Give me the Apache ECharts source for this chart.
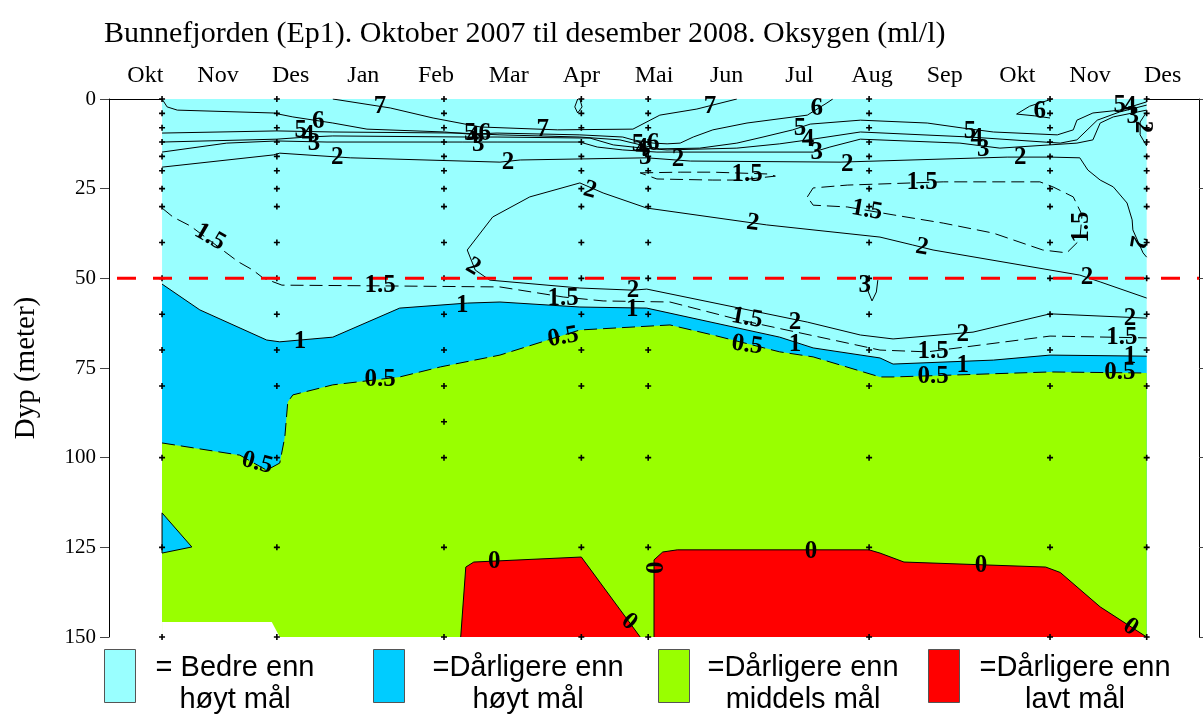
<!DOCTYPE html>
<html>
<head>
<meta charset="utf-8">
<script src="https://cdn.jsdelivr.net/npm/echarts@6/dist/echarts.min.js"></script>
<style>
  html, body { margin: 0; background: #fff; }
  #chart { width: 1204px; height: 715px; }
</style>
</head>
<body>
<div id="chart"></div>
<script>
// x = months since 1 Oct 2007, y = depth in metres
const months = ['Okt', 'Nov', 'Des', 'Jan', 'Feb', 'Mar', 'Apr', 'Mai', 'Jun', 'Jul', 'Aug', 'Sep', 'Okt', 'Nov', 'Des'];
const stations = [0.73, 2.31, 4.61, 6.50, 7.42, 10.46, 12.95, 14.28];
const sampleDepths = [0, 4, 8, 12, 16, 20, 25, 30, 40, 50, 60, 70, 80, 100, 125, 150];
const extraSamples = [[4.61, 90]];
const targetDepth = 50;

// contour lines [month, depth]
const c7 = [[3.08, 0], [3.87, 2.5], [4.46, 5.3], [5.11, 7.8], [6.17, 8.6], [7.21, 8.4], [7.58, 4.5], [8.09, 2.8], [8.64, 0]];
const c7loop = [[6.45, 0], [6.41, 2.2], [6.45, 3.9], [6.51, 2.2], [6.48, 0]];
const c6 = [[0.73, 0], [0.80, 2.2], [0.94, 3.1], [2.26, 3.9], [2.53, 5.0], [3.08, 6.7], [3.55, 8.4], [4.62, 9.2], [4.97, 9.8], [5.34, 9.5],
  [6.48, 10.0], [7.07, 10.6], [7.21, 11.4], [7.49, 12.3], [7.68, 12.5], [7.86, 12.3], [8.04, 10.6], [8.31, 8.6], [8.78, 6.7], [9.61, 4.5], [9.88, 1.1], [9.96, 0]];
const c6b = [[12.98, 0], [12.67, 2.0], [12.49, 4.2], [12.74, 4.7], [12.95, 5.3]];
const c5 = [[0.73, 9.5], [2.31, 8.9], [3.08, 9.2], [4.83, 9.5], [5.38, 10.0], [6.48, 10.6], [7.03, 11.4], [7.38, 13.1], [7.58, 13.9], [8.13, 13.7],
  [8.64, 12.3], [9.0, 10.6], [9.41, 8.6], [9.65, 7.0], [10.34, 5.9], [11.26, 6.7], [11.75, 8.1], [12.17, 9.2], [13.05, 10.0], [13.27, 8.6],
  [13.32, 5.9], [13.54, 3.9], [13.91, 3.1], [14.28, 0.8]];
const c4 = [[0.73, 12.0], [2.31, 11.2], [2.73, 10.6], [3.08, 10.3], [4.93, 10.6], [5.34, 10.6], [6.62, 10.9], [6.94, 12.8], [7.35, 13.7], [7.68, 14.2],
  [8.64, 13.7], [9.23, 12.5], [9.62, 11.4], [10.34, 9.2], [11.85, 10.6], [13.09, 12.3], [13.32, 11.4], [13.60, 5.9], [13.91, 3.6], [14.28, 1.7]];
const c3 = [[0.73, 14.8], [1.62, 12.3], [2.31, 11.7], [3.0, 12.0], [4.87, 12.0], [5.34, 12.0], [6.48, 12.0], [6.72, 13.4], [7.07, 14.2], [7.54, 14.8],
  [9.69, 14.8], [9.92, 13.4], [10.34, 11.2], [11.71, 12.3], [12.26, 13.7], [13.32, 12.3], [13.54, 11.4], [13.64, 6.7], [13.82, 5.0], [14.28, 3.1]];
const c3loop = [[10.42, 50.2], [10.45, 53.8], [10.50, 56.3], [10.56, 53.8], [10.58, 50.5]];
const c2 = [[0.73, 19.0], [2.26, 15.6], [2.35, 15.1], [3.32, 16.4], [5.38, 17.6], [5.66, 17.0], [7.40, 16.4], [8.0, 17.3], [10.06, 17.6], [12.36, 16.2],
  [12.95, 16.2], [13.36, 16.4], [13.47, 19.8], [13.64, 22.6], [13.82, 24.5], [14.01, 29.0], [14.08, 33.7], [14.09, 36.5], [14.23, 42.9], [14.28, 44.1]];
const c2edge = [[14.28, 3.6], [14.19, 6.4], [14.19, 10.0], [14.28, 13.1]];
const c2tongue = [[14.28, 61.1], [12.95, 59.9], [11.89, 65.0], [10.79, 66.9], [10.34, 65.8], [9.61, 62.2], [7.40, 53.0], [7.21, 53.3], [6.48, 52.7],
  [5.24, 50.5], [5.04, 47.7], [4.93, 42.1], [5.28, 32.9], [5.79, 27.3], [6.48, 23.4], [6.80, 26.2], [7.40, 30.4], [9.05, 35.1], [10.61, 38.5],
  [11.06, 40.7], [11.34, 42.1], [13.36, 49.1], [13.64, 51.0], [14.28, 55.5]];
const c15 = [[0.73, 30.4], [0.88, 32.9], [1.12, 35.4], [1.78, 45.4], [1.98, 47.7], [2.12, 49.9], [2.38, 51.9], [3.73, 52.1], [5.38, 52.4], [6.25, 55.2],
  [6.80, 56.3], [7.72, 56.6], [8.68, 61.6], [10.61, 70.0], [11.26, 70.5], [12.95, 66.1], [14.28, 66.6]];
const c15loopA = [[7.31, 20.6], [7.86, 20.4], [8.31, 20.4], [9.06, 20.9], [9.17, 21.5], [8.68, 22.6], [8.31, 22.6], [7.54, 22.3], [7.31, 20.6]];
const c15loopB = [[9.61, 27.3], [9.69, 24.8], [10.16, 24.0], [10.61, 23.7], [11.48, 23.1], [12.81, 23.1], [12.99, 24.5], [13.27, 27.3], [13.39, 32.3],
  [13.36, 39.3], [13.18, 42.9], [12.85, 42.1], [12.17, 37.4], [11.48, 34.6], [10.79, 32.3], [10.16, 30.1], [9.69, 29.6], [9.61, 27.3]];
const c1 = [[0.73, 51.6], [1.25, 58.8], [2.17, 67.2], [2.35, 67.7], [3.08, 66.4], [4.0, 58.3], [4.93, 56.9], [5.38, 56.6], [6.48, 58.0], [7.40, 58.3],
  [9.23, 66.4], [9.69, 69.4], [10.61, 72.2], [10.79, 73.9], [12.17, 72.8], [12.95, 71.4], [14.28, 71.7]];
const c05 = [[0.73, 95.9], [1.80, 99.3], [2.17, 103.5], [2.35, 101.5], [2.42, 94.2], [2.46, 84.5], [2.53, 82.5], [3.08, 79.7], [4.0, 77.5], [4.56, 74.7],
  [5.38, 71.4], [6.48, 64.4], [7.72, 63.0], [8.31, 65.8], [9.23, 70.5], [9.69, 71.9], [10.61, 77.5], [10.79, 77.5], [12.95, 76.1], [14.28, 76.4]];
const c05pocket = [[0.73, 115.4], [1.14, 124.9], [0.73, 126.6]];
const c0a = [[4.84, 150], [4.91, 130.5], [5.02, 129.1], [6.50, 127.7], [7.31, 150]];
const c0b = [[7.50, 150], [7.50, 128.5], [7.62, 126.3], [7.82, 125.7], [10.46, 125.7], [10.61, 126.6], [10.94, 129.1], [12.89, 130.5], [13.09, 132.0],
  [13.64, 141.6], [14.28, 150]];
const noData = [[0.73, 145.8], [2.24, 145.8], [2.35, 150], [0.73, 150]];

// [month, depth, contour value, angle]
const contourLabels = [
  [3.73, 2.2, 7, 0], [2.88, 6.4, 6, 0], [2.64, 8.9, 5, 0], [2.74, 10.3, 4, 0], [2.82, 12.3, 3, 0], [3.14, 16.4, 2, 0],
  [4.97, 9.5, 5, 0], [5.17, 9.5, 6, 0], [5.01, 10.6, 4, 0], [5.08, 12.8, 3, 0], [5.97, 8.6, 7, 0], [5.49, 17.6, 2, 0],
  [7.28, 12.8, 5, 0], [7.49, 12.3, 6, 0], [7.33, 13.7, 4, 0], [7.38, 16.4, 3, 0], [7.83, 17.0, 2, 0],
  [8.27, 2.2, 7, 0], [9.74, 2.8, 6, 0], [9.51, 8.1, 5, 0], [9.62, 11.4, 4, 0], [9.74, 14.8, 3, 0], [10.16, 18.4, 2, 0],
  [11.85, 9.2, 5, 0], [11.94, 10.9, 4, 0], [12.03, 14.2, 3, 0], [12.54, 16.4, 2, 0], [12.81, 3.6, 6, 0],
  [13.91, 1.7, 5, 0], [14.05, 2.2, 4, 0], [14.09, 5.0, 3, 0], [14.22, 7.8, 2, -90],
  [8.78, 21.2, 1.5, 0], [11.19, 23.4, 1.5, 0], [13.39, 35.7, 1.5, 90], [10.43, 31.0, 1.5, -10],
  [6.62, 25.4, 2, -15], [8.86, 34.6, 2, -8], [11.19, 41.3, 2, -10], [14.15, 39.9, 2, -100], [5.01, 46.8, 2, -30],
  [1.39, 38.5, 1.5, -30], [3.73, 51.9, 1.5, 0], [4.86, 57.7, 1, 0], [6.25, 55.5, 1.5, 0], [7.21, 53.3, 2, 0], [7.20, 58.8, 1, 0],
  [10.40, 51.9, 3, 0], [13.46, 49.9, 2, 0], [8.78, 61.1, 1.5, -10], [9.44, 62.2, 2, 0], [9.44, 68.6, 1, 0], [8.78, 68.6, 0.5, -8],
  [6.25, 66.4, 0.5, 10], [2.63, 67.7, 1, 0], [3.73, 78.3, 0.5, 0], [2.04, 101.5, 0.5, -15],
  [11.75, 65.8, 2, 0], [11.34, 70.5, 1.5, 0], [11.75, 74.2, 1, 0], [11.34, 77.5, 0.5, 0],
  [14.05, 61.1, 2, 0], [13.94, 66.6, 1.5, 0], [14.05, 71.9, 1, 0], [13.91, 76.4, 0.5, 0],
  [5.30, 129.1, 0, 0], [7.16, 145.8, 0, -40], [7.53, 130.7, 0, 90], [9.66, 126.1, 0, 0], [12.0, 130.0, 0, 0], [14.06, 147.2, 0, -35]
];

const legendText = [['= Bedre enn', 'høyt mål'], ['=Dårligere enn', 'høyt mål'], ['=Dårligere enn', 'middels mål'], ['=Dårligere enn', 'lavt mål']];

const colors = ['#99ffff', '#00ccff', '#99ff00', '#ff0000'];
const serif = 'Liberation Serif';
const x0 = stations[0];
const x1 = stations[stations.length - 1];

function regionFill(points, color) {
  return {
    type: 'custom', xAxisIndex: 1, yAxisIndex: 0, silent: true, z: 1,
    data: [0],
    renderItem: (params, api) => ({
      type: 'polygon',
      shape: { points: points.map(p => api.coord(p)) },
      style: { fill: color }
    })
  };
}

function contour(points, dashed) {
  return {
    type: 'line', xAxisIndex: 1, yAxisIndex: 0, silent: true, z: 2,
    data: points, symbol: 'none',
    lineStyle: { color: '#000', width: 1, type: dashed ? [13, 6] : 'solid' }
  };
}

const chart = echarts.init(document.getElementById('chart'));

const legendGraphics = [];
const legendBoxX = [104, 373, 658, 928];
const legendTextX = [235, 528, 803, 1075];
legendText.forEach((lines, i) => {
  legendGraphics.push({
    type: 'rect', left: legendBoxX[i], top: 649,
    shape: { width: 31, height: 53 },
    style: { fill: colors[i], stroke: '#555', lineWidth: 1 }
  });
  lines.forEach((t, j) => {
    legendGraphics.push({
      type: 'text', x: legendTextX[i], y: 668 + j * 32,
      style: { text: t, fill: '#000', font: '29px "Liberation Sans"', align: 'center', verticalAlign: 'middle' }
    });
  });
});

chart.setOption({
  animation: false,
  backgroundColor: '#fff',
  title: {
    text: 'Bunnefjorden (Ep1). Oktober 2007 til desember 2008. Oksygen (ml/l)',
    left: 99, top: 14,
    textStyle: { fontFamily: serif, fontSize: 30, fontWeight: 'normal', color: '#000' }
  },
  grid: { left: 109, right: 5, top: 99, bottom: 78 },
  xAxis: [
    {
      type: 'category', data: months, position: 'top',
      axisLine: { lineStyle: { color: '#000' } },
      axisTick: { length: 13, lineStyle: { color: '#444' } },
      axisLabel: { interval: 0, color: '#000', fontFamily: serif, fontSize: 24, margin: 11 }
    },
    {
      type: 'value', min: 0, max: 15, position: 'bottom',
      axisLine: { show: true, lineStyle: { color: '#000' } },
      axisTick: { show: false }, axisLabel: { show: false }, splitLine: { show: false }
    }
  ],
  yAxis: [
    {
      type: 'value', inverse: true, min: 0, max: 150, interval: 25, position: 'left',
      name: 'Dyp (meter)', nameLocation: 'middle', nameGap: 68, nameRotate: 90,
      nameTextStyle: { fontFamily: serif, fontSize: 29, color: '#000' },
      axisLine: { show: true, lineStyle: { color: '#000' } },
      axisTick: { show: true, length: 9, lineStyle: { color: '#444' } },
      axisLabel: { color: '#000', fontFamily: serif, fontSize: 21, margin: 13 },
      splitLine: { show: false }
    },
    {
      type: 'value', inverse: true, min: 0, max: 150, interval: 25, position: 'right',
      axisLine: { show: true, lineStyle: { color: '#000' } },
      axisTick: { show: true, length: 4, lineStyle: { color: '#444' } },
      axisLabel: { show: false }, splitLine: { show: false }
    }
  ],
  graphic: legendGraphics,
  series: [
    regionFill([[x0, 0], [x1, 0], [x1, 150], [x0, 150]], colors[0]),
    regionFill([...c1, [x1, 150], [x0, 150]], colors[1]),
    regionFill([...c05, [x1, 150], [x0, 150]], colors[2]),
    regionFill(c05pocket, colors[1]),
    regionFill(c0a, colors[3]),
    regionFill(c0b, colors[3]),
    regionFill(noData, '#fff'),
    contour(c7), contour(c7loop), contour(c6), contour(c6b), contour(c5), contour(c4), contour(c3), contour(c3loop),
    contour(c2), contour(c2edge), contour(c2tongue),
    contour(c15, true), contour(c15loopA, true), contour(c15loopB, true),
    contour(c1), contour(c05, true), contour(c05pocket.concat([c05pocket[0]])),
    contour(c0a), contour(c0b),
    {
      type: 'scatter', xAxisIndex: 1, yAxisIndex: 0, silent: true, z: 3,
      symbol: 'path://M2.2,0H3.8V2.2H6V3.8H3.8V6H2.2V3.8H0V2.2H2.2Z', symbolSize: 6,
      itemStyle: { color: '#000', opacity: 1 },
      data: stations.flatMap(s => sampleDepths.map(d => [s, d])).concat(extraSamples)
    },
    {
      type: 'line', xAxisIndex: 1, yAxisIndex: 0, silent: true, z: 4, symbol: 'none',
      data: [[0, targetDepth], [15, targetDepth]],
      lineStyle: { color: '#ff0000', width: 3, type: [19, 17], dashOffset: 28 }
    },
    {
      type: 'custom', xAxisIndex: 1, yAxisIndex: 0, silent: true, z: 5,
      data: contourLabels,
      encode: { x: 0, y: 1 },
      renderItem: (params, api) => {
        const p = api.coord([api.value(0), api.value(1)]);
        return {
          type: 'text', x: p[0], y: p[1],
          rotation: api.value(3) * Math.PI / 180,
          style: {
            text: String(api.value(2)), fill: '#000',
            font: 'bold 25px "Liberation Serif"', align: 'center', verticalAlign: 'middle'
          }
        };
      }
    }
  ]
});
</script>
</body>
</html>
